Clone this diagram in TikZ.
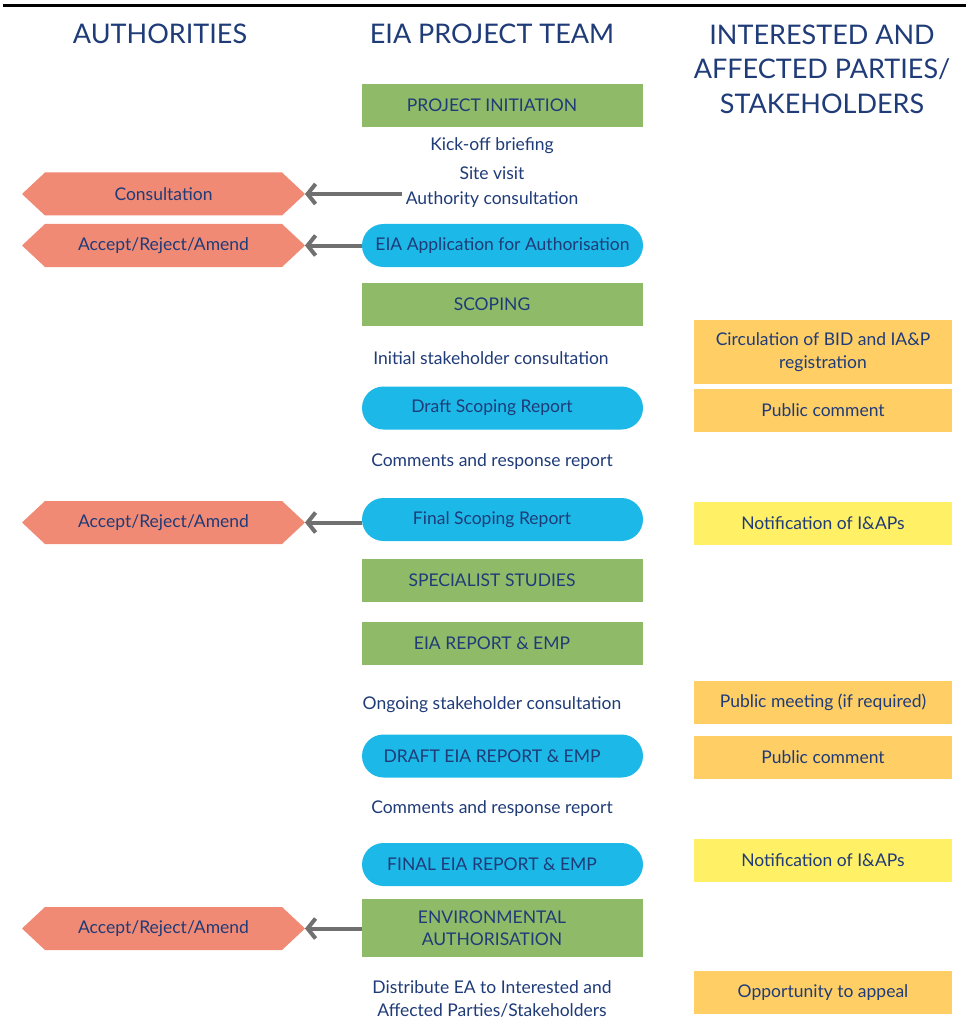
\documentclass[tikz,border=0pt]{standalone}
\usepackage{fontspec}
\setmainfont{Lato}
\usetikzlibrary{arrows.meta,backgrounds}
\definecolor{navy}{HTML}{1F3B78}
\definecolor{gfill}{HTML}{8FBB69}
\definecolor{bfill}{HTML}{1CB9E8}
\definecolor{rfill}{HTML}{F08A75}
\definecolor{ofill}{HTML}{FFCF66}
\definecolor{yfill}{HTML}{FFF066}
\definecolor{agray}{HTML}{707070}
\begin{document}
\begin{tikzpicture}[x=1pt,y=-1pt,
  every node/.style={outer sep=0pt},
  hdr/.style={text=navy, font=\fontsize{27}{34.5}\selectfont, align=center},
  txt/.style={text=navy, font=\fontsize{17.5}{22.5}\selectfont, align=center},
  gbox/.style={txt, fill=gfill, minimum width=281, minimum height=43, inner sep=0pt},
  pill/.style={txt, fill=bfill, rounded corners=21.5, minimum width=281, minimum height=43, inner sep=0pt},
  obox/.style={txt, fill=ofill, minimum width=258, minimum height=43, inner sep=0pt},
  ybox/.style={txt, fill=yfill, minimum width=258, minimum height=43, inner sep=0pt},
  hexbox/.style={txt, minimum width=283, minimum height=43, inner sep=0pt},
  lft/.style={execute at begin node={\hspace*{-21pt}}},
  arr/.style={draw=agray, line width=4pt, -{Straight Barb[length=8pt,width=20pt]}}
]
\useasboundingbox (0,0) rectangle (966,1032);
\draw[line width=3.5pt] (3,5.5) -- (966,5.5);

% headers
\node[hdr] (h1) at (160,34) {AUTHORITIES};
\node[hdr] (h2) at (492,34) {EIA PROJECT TEAM};
\node[hdr] (h3) at (822,69) {INTERESTED AND\\AFFECTED PARTIES/\\STAKEHOLDERS};

% centre column
\node[gbox, lft] (pi) at (502.5,105.5) {PROJECT INITIATION};
\node[txt] (kick) at (492,146) {Kick-off briefing};
\node[txt] (site) at (492,173) {Site visit};
\node[txt] (auth) at (492,200) {Authority consultation};
\node[pill] (app) at (502.5,245.5) {EIA Application for Authorisation};
\node[gbox, lft] (sc) at (502.5,304) {SCOPING};
\node[txt] (init) at (491,358) {Initial stakeholder consultation};
\node[pill, lft] (dsr) at (502.5,408) {Draft Scoping Report};
\node[txt] (cr1) at (492,462) {Comments and response report};
\node[pill, lft] (fsr) at (502.5,519.5) {Final Scoping Report};
\node[gbox, lft] (ss) at (502.5,580) {SPECIALIST STUDIES};
\node[gbox, lft] (er) at (502.5,643) {EIA REPORT \& EMP};
\node[txt] (ong) at (492,705) {Ongoing stakeholder consultation};
\node[pill, lft] (deia) at (502.5,756) {DRAFT EIA REPORT \& EMP};
\node[txt] (cr2) at (492,809) {Comments and response report};
\node[pill, lft] (feia) at (502.5,864.5) {FINAL EIA REPORT \& EMP};
\node[gbox, minimum height=58] (ea) at (502.5,928) {\hspace*{-21pt}ENVIRONMENTAL\\\hspace*{-21pt}AUTHORISATION};
\node[txt] (dist) at (492,999) {Distribute EA to Interested and\\Affected Parties/Stakeholders};

% left column
\node[hexbox] (c) at (163.5,194) {Consultation};
\node[hexbox] (a1) at (163.5,245.5) {Accept/Reject/Amend};
\node[hexbox] (a2) at (163.5,522.5) {Accept/Reject/Amend};
\node[hexbox] (a3) at (163.5,928.5) {Accept/Reject/Amend};

% right column
\node[obox, minimum height=64] (circ) at (823,352) {Circulation of BID and IA\&P\\registration};
\node[obox] (pc1) at (823,410) {Public comment};
\node[ybox] (n1) at (823,523.5) {Notification of I\&APs};
\node[obox] (pm) at (823,702.5) {Public meeting (if required)};
\node[obox] (pc2) at (823,757.5) {Public comment};
\node[ybox] (n2) at (823,860) {Notification of I\&APs};
\node[obox] (opp) at (823,992.5) {Opportunity to appeal};

\begin{pgfonlayer}{background}
\fill[white] (0,0) rectangle (966,1032);
\foreach \n in {c,a1,a2,a3}{
  \fill[rfill] (\n.west) -- ([xshift=23pt]\n.north west) -- ([xshift=-23pt]\n.north east)
    -- (\n.east) -- ([xshift=-23pt]\n.south east) -- ([xshift=23pt]\n.south west) -- cycle;
}
\end{pgfonlayer}

% connectors
\draw[arr] (c.east -| auth.west) -- (c.east);
\draw[arr] (a1.east -| app.west) -- (a1.east);
\draw[arr] (a2.east -| fsr.west) -- (a2.east);
\draw[arr] (a3.east -| ea.west) -- (a3.east);
\end{tikzpicture}
\end{document}
